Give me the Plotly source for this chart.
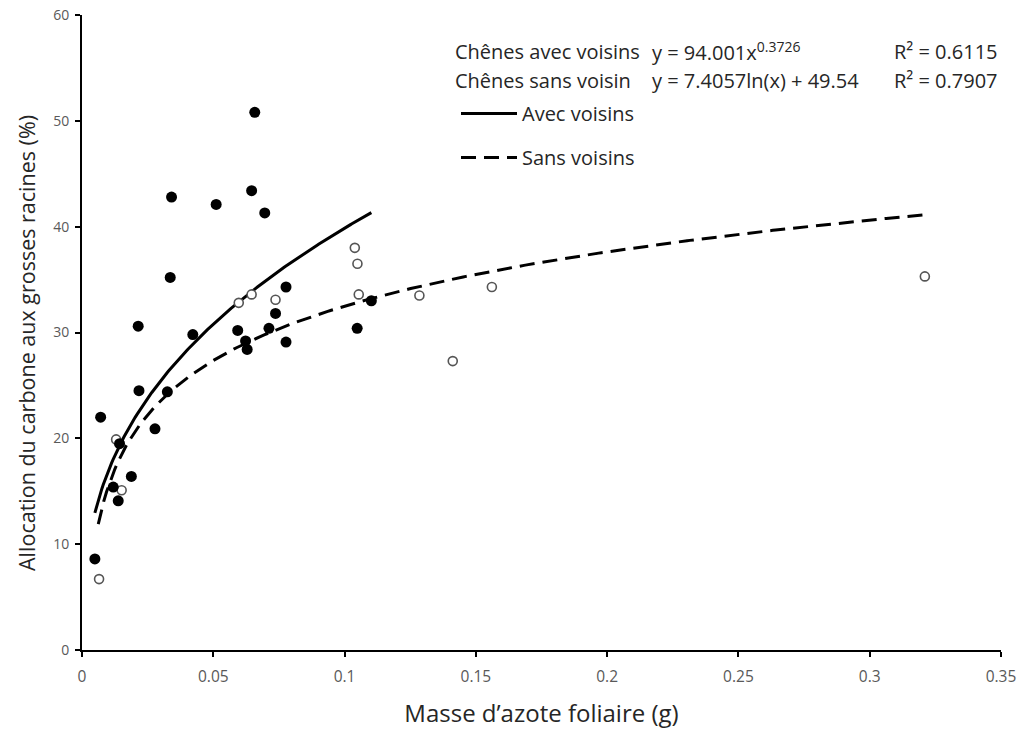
import numpy as np
import plotly.graph_objects as go

# --- data ---
avec_x = [0.0049, 0.0071, 0.0119, 0.0138, 0.0143, 0.0188, 0.0214, 0.0217, 0.0278, 0.0325,
          0.0336, 0.0341, 0.0422, 0.0511, 0.0593, 0.0623, 0.0629, 0.0646, 0.0658, 0.0696,
          0.0712, 0.0737, 0.0777, 0.0777, 0.1048, 0.1102]
avec_y = [8.6, 22.0, 15.4, 14.1, 19.5, 16.4, 30.6, 24.5, 20.9, 24.4,
          35.2, 42.8, 29.8, 42.1, 30.2, 29.2, 28.4, 43.4, 50.8, 41.3,
          30.4, 31.8, 34.3, 29.1, 30.4, 33.0]

sans_x = [0.0065, 0.0130, 0.0151, 0.0597, 0.0646, 0.0737, 0.1039, 0.1049, 0.1054,
          0.1285, 0.1412, 0.1561, 0.3210]
sans_y = [6.7, 19.9, 15.1, 32.8, 33.6, 33.1, 38.0, 36.5, 33.6,
          33.5, 27.3, 34.3, 35.3]

# trendline equations shown on the chart
pow_a, pow_b = 94.001, 0.3726          # avec voisins: y = a x^b
log_a, log_b = 7.4057, 49.54           # sans voisin:  y = a ln(x) + b
avec_range = (0.0049, 0.1102)
sans_range = (0.0062, 0.3210)

x_ticks = [0, 0.05, 0.1, 0.15, 0.2, 0.25, 0.3, 0.35]
x_tick_labels = ["0", "0.05", "0.1", "0.15", "0.2", "0.25", "0.3", "0.35"]
y_ticks = [0, 10, 20, 30, 40, 50, 60]

FONT = "Open Sans"
TXT = "#262626"
W, H = 1021, 729
L, R, T, B = 82, 20, 15, 79

xa = np.linspace(*avec_range, 200)
ya = pow_a * xa ** pow_b
xs = np.linspace(*sans_range, 300)
ys = log_a * np.log(xs) + log_b

fig = go.Figure()
fig.add_trace(go.Scatter(x=xa, y=ya, mode="lines", name="Avec voisins",
                         line=dict(color="black", width=3), legendgroup="a"))
fig.add_trace(go.Scatter(x=xs, y=ys, mode="lines", name="Sans voisins",
                         line=dict(color="black", width=3, dash="15px,8px"), legendgroup="b"))
fig.add_trace(go.Scatter(x=sans_x, y=sans_y, mode="markers", showlegend=False,
                         marker=dict(size=9, color="white", line=dict(color="#555555", width=1.6))))
fig.add_trace(go.Scatter(x=avec_x, y=avec_y, mode="markers", showlegend=False,
                         marker=dict(size=11, color="black", line=dict(width=0))))

def px(xpix):
    return (xpix - L) / (W - L - R)

def py(ypix):
    return (H - B - ypix) / (H - B - T)

txt = dict(size=20, color=TXT, family=FONT)
rows = [
    (51, "Chênes avec voisins", "y = 94.001x<sup>0.3726</sup>", "R² = 0.6115"),
    (80, "Chênes sans voisin", "y = 7.4057ln(x) + 49.54", "R² = 0.7907"),
]
for ypix, a, b, c in rows:
    for xpix, t in [(455, a), (652, b), (894, c)]:
        fig.add_annotation(x=px(xpix), y=py(ypix), xref="paper", yref="paper",
                           text=t, showarrow=False, xanchor="left", yanchor="middle",
                           font=txt, xshift=-2)

# y-axis title
fig.add_annotation(x=px(26), y=py(343), xref="paper", yref="paper", textangle=-90,
                   text="Allocation du carbone aux grosses racines (%)", showarrow=False,
                   xanchor="center", yanchor="middle", font=dict(size=21.5, family=FONT, color=TXT))

fig.update_layout(
    width=W, height=H,
    margin=dict(l=L, r=R, t=T, b=B),
    paper_bgcolor="white", plot_bgcolor="white",
    font=dict(family=FONT, color=TXT),
    showlegend=True,
    legend=dict(x=px(456), y=py(94), xanchor="left", yanchor="top",
                bgcolor="rgba(0,0,0,0)", font=dict(size=20, family=FONT, color=TXT),
                tracegroupgap=15, itemwidth=56),
    xaxis=dict(range=[0, 0.35], tickvals=x_ticks, ticktext=x_tick_labels, automargin=False,
               showgrid=False, zeroline=False, showline=True, linecolor="black", linewidth=2,
               ticks="outside", ticklen=5, tickwidth=2, tickcolor="black",
               tickfont=dict(size=15.5, color="#595959", family=FONT), ticklabelstandoff=6,
               title=dict(text="Masse d’azote foliaire (g)", font=dict(size=24, family=FONT, color=TXT),
                          standoff=21)),
    yaxis=dict(range=[0, 60], tickvals=y_ticks, automargin=False,
               showgrid=False, zeroline=False, showline=True, linecolor="black", linewidth=2,
               ticks="outside", ticklen=5, tickwidth=2, tickcolor="black",
               tickfont=dict(size=14, color="#595959", family=FONT), ticklabelstandoff=3),
)

fig.write_html("out.html", config={"displayModeBar": False},
               post_script="document.body.style.margin='0px';")
